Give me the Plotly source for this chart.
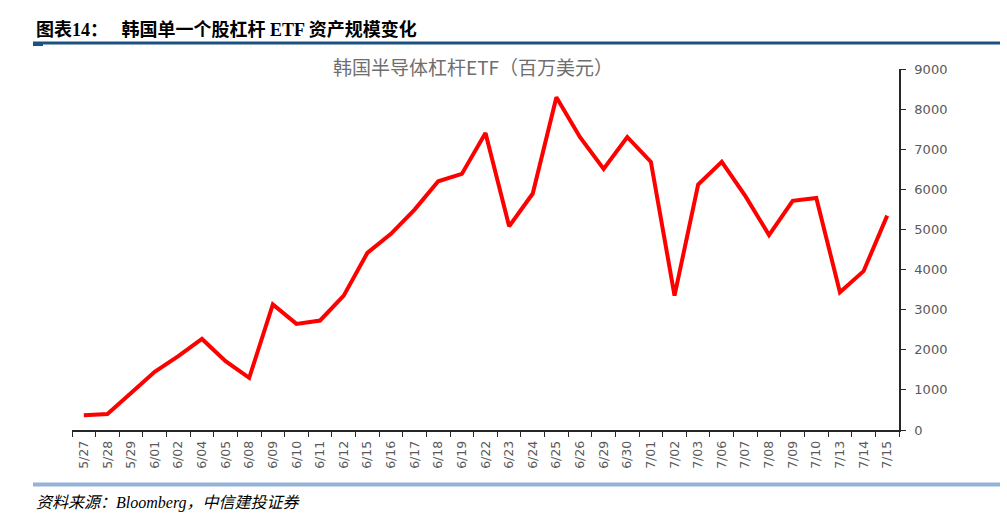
import plotly.graph_objects as go

dates = ["5/27","5/28","5/29","6/01","6/02","6/04","6/05","6/08","6/09","6/10","6/11","6/12",
         "6/15","6/16","6/17","6/18","6/19","6/22","6/23","6/24","6/25","6/26","6/29","6/30",
         "7/01","7/02","7/03","7/06","7/07","7/08","7/09","7/10","7/13","7/14","7/15"]
aum = [370, 400, 920, 1450, 1840, 2270, 1715, 1300, 3130, 2645, 2730, 3350,
       4415, 4890, 5495, 6200, 6385, 7405, 5080, 5895, 8295, 7300, 6510, 7305,
       6685, 3350, 6120, 6685, 5830, 4860, 5715, 5785, 3435, 3960, 5345]
y_ticks = [0, 1000, 2000, 3000, 4000, 5000, 6000, 7000, 8000, 9000]

W, H = 1007, 517
L, R, T, B = 72, 108, 69, 86.5
pw, ph = W - L - R, H - T - B

def px(x):
    return (x - L) / pw

def py(y):
    return (H - B - y) / ph

fig = go.Figure()
fig.add_trace(go.Scatter(x=dates, y=aum, mode="lines",
                         line=dict(color="#FF0000", width=4), hoverinfo="skip"))

fig.update_layout(
    width=W, height=H,
    margin=dict(l=L, r=R, t=T, b=B, autoexpand=False),
    paper_bgcolor="white", plot_bgcolor="white",
    showlegend=False,
    font=dict(family="Noto Sans CJK SC, DejaVu Sans", color="#595959"),
    xaxis=dict(type="category", range=[-0.5, len(dates) - 0.5],
               tickson="boundaries", ticks="outside", ticklen=5,
               tickcolor="#262626", showline=True, linecolor="#262626", linewidth=1.5,
               showgrid=False, tickangle=-90, zeroline=False, ticklabelstandoff=4,
               tickfont=dict(size=12.5, color="#595959", family="DejaVu Sans")),
    yaxis=dict(side="right", range=[0, 9000], tickvals=y_ticks, ticks="outside", ticklen=5,
               tickcolor="#262626", showline=True, linecolor="#262626", linewidth=1.5,
               showgrid=False, zeroline=False, ticklabelstandoff=6,
               tickfont=dict(size=13, color="#595959", family="DejaVu Sans")),
)

shapes = [
    dict(type="line", xref="paper", yref="paper", x0=px(33), x1=px(1000), y0=py(43), y1=py(43),
         line=dict(color="#1B5283", width=3)),
    dict(type="rect", xref="paper", yref="paper", x0=px(33), x1=px(43), y0=py(46), y1=py(43),
         line=dict(width=0), fillcolor="#1B5283"),
    dict(type="line", xref="paper", yref="paper", x0=px(33), x1=px(1000), y0=py(485), y1=py(485),
         line=dict(color="#95B3D7", width=4)),
]
fig.update_layout(shapes=shapes)

fig.add_annotation(xref="paper", yref="paper", x=px(34), y=py(29), xanchor="left", yanchor="middle",
                   text="<b>图表14：   韩国单一个股杠杆 ETF 资产规模变化</b>", showarrow=False,
                   font=dict(size=18, color="#000000", family="Liberation Serif, Noto Sans CJK SC"))
fig.add_annotation(xref="paper", yref="paper", x=px(473), y=py(66), xanchor="center", yanchor="middle",
                   text="韩国半导体杠杆ETF（百万美元）", showarrow=False,
                   font=dict(size=19, color="#6E6E6E", family="Noto Sans CJK SC"))
fig.add_annotation(xref="paper", yref="paper", x=px(34), y=py(504), xanchor="left", yanchor="middle",
                   text="<i>资料来源：Bloomberg，中信建投证券</i>", showarrow=False,
                   font=dict(size=16, color="#000000", family="Liberation Serif, Noto Sans CJK SC"))

fig.write_html("out.html", config={"displayModeBar": False},
               post_script="document.body.style.margin='0';document.body.style.overflow='hidden';")
